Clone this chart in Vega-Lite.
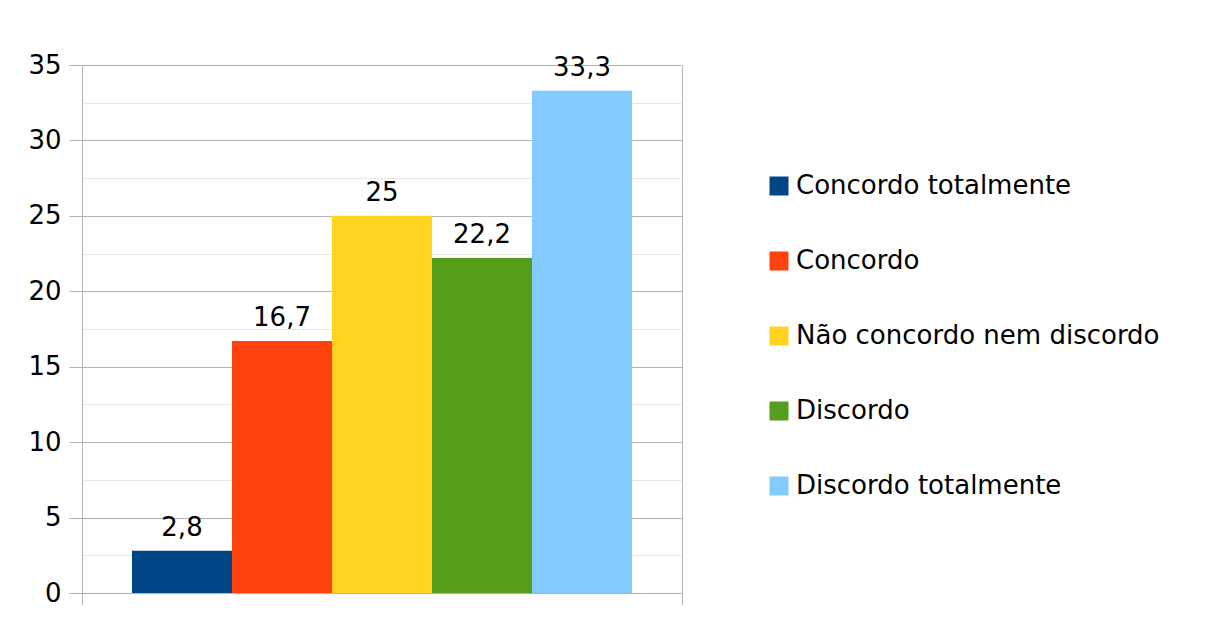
{
  "$schema": "https://vega.github.io/schema/vega-lite/v6.json",
  "width": 600,
  "height": 528,
  "autosize": "none",
  "padding": {"left": 82, "top": 65, "right": 524, "bottom": 40},
  "background": "white",
  "config": {
    "view": {"stroke": null},
    "font": "DejaVu Sans",
    "locale": {"number": {"decimal": ",", "thousands": ".", "grouping": [3], "currency": ["R$", ""]}}
  },
  "data": {
    "values": [
      {"grupo": "1", "resposta": "Concordo totalmente", "valor": 2.8},
      {"grupo": "1", "resposta": "Concordo", "valor": 16.7},
      {"grupo": "1", "resposta": "Não concordo nem discordo", "valor": 25},
      {"grupo": "1", "resposta": "Discordo", "valor": 22.2},
      {"grupo": "1", "resposta": "Discordo totalmente", "valor": 33.3}
    ]
  },
  "layer": [
    {
      "mark": {"type": "bar"},
      "encoding": {
        "x": {
          "field": "grupo", "type": "nominal",
          "scale": {"paddingInner": 0, "paddingOuter": 0},
          "axis": {"title": null, "labels": false, "tickBand": "extent", "grid": true, "gridColor": "#b3b3b3", "domainColor": "#b3b3b3", "tickColor": "#b3b3b3", "tickSize": 12, "gridWidth": 1, "domainWidth": 1}
        },
        "xOffset": {
          "field": "resposta", "type": "nominal",
          "sort": ["Concordo totalmente", "Concordo", "Não concordo nem discordo", "Discordo", "Discordo totalmente"],
          "scale": {"paddingInner": 0, "paddingOuter": 0.5}
        },
        "y": {
          "field": "valor", "type": "quantitative",
          "scale": {"domain": [0, 35], "nice": false},
          "axis": {"orient": "left", "title": null, "labels": false, "ticks": false, "domain": false, "grid": true, "values": [2.5, 7.5, 12.5, 17.5, 22.5, 27.5, 32.5], "gridColor": "#e6e6e6", "gridWidth": 1}
        },
        "color": {
          "field": "resposta", "type": "nominal",
          "sort": ["Concordo totalmente", "Concordo", "Não concordo nem discordo", "Discordo", "Discordo totalmente"],
          "scale": {"range": ["#004586", "#ff420e", "#ffd320", "#579d1c", "#83caff"]},
          "legend": {
            "title": null, "orient": "none", "legendX": 684, "legendY": 108, "padding": 0,
            "symbolType": "square", "symbolSize": 361, "symbolStrokeWidth": 0,
            "labelFontSize": 26, "labelColor": "#000000", "labelOffset": 4, "rowPadding": 49, "labelLimit": 500
          }
        }
      }
    },
    {
      "mark": {"type": "text", "baseline": "alphabetic", "dy": -15, "fontSize": 26, "color": "#000000"},
      "encoding": {
        "x": {"field": "grupo", "type": "nominal"},
        "xOffset": {
          "field": "resposta", "type": "nominal",
          "sort": ["Concordo totalmente", "Concordo", "Não concordo nem discordo", "Discordo", "Discordo totalmente"]
        },
        "y": {
          "field": "valor", "type": "quantitative",
          "axis": {"orient": "left", "title": null, "grid": true, "gridOpacity": 1, "values": [0, 5, 10, 15, 20, 25, 30, 35], "gridColor": "#b3b3b3", "domainColor": "#b3b3b3", "tickColor": "#b3b3b3", "tickSize": 13, "labelFontSize": 26, "labelColor": "#000000", "labelPadding": 8, "labelFont": "DejaVu Sans"}
        },
        "text": {"field": "valor", "type": "quantitative", "format": "~g"}
      }
    }
  ],
  "resolve": {"axis": {"y": "independent"}}
}
